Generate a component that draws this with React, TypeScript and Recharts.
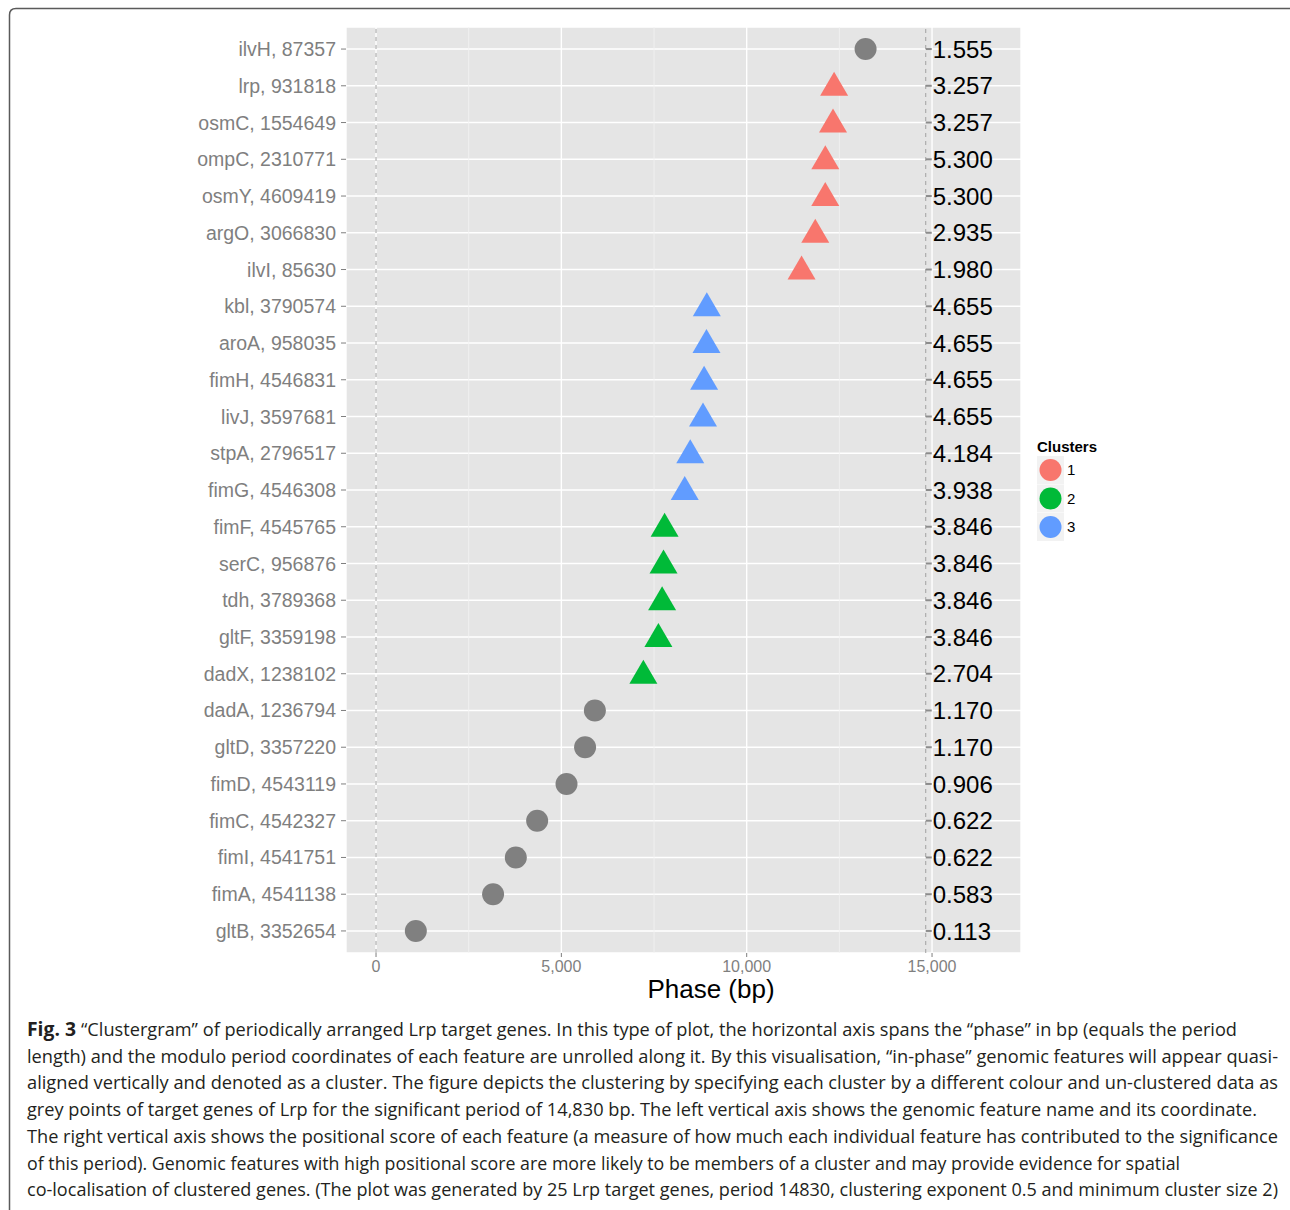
import { CartesianGrid, ReferenceLine, Scatter, ScatterChart, XAxis, YAxis } from 'recharts';

const genes = ['ilvH', 'lrp', 'osmC', 'ompC', 'osmY', 'argO', 'ilvI', 'kbl', 'aroA', 'fimH', 'livJ', 'stpA', 'fimG', 'fimF', 'serC', 'tdh', 'gltF', 'dadX', 'dadA', 'gltD', 'fimD', 'fimC', 'fimI', 'fimA', 'gltB'];
const coords = [87357, 931818, 1554649, 2310771, 4609419, 3066830, 85630, 3790574, 958035, 4546831, 3597681, 2796517, 4546308, 4545765, 956876, 3789368, 3359198, 1238102, 1236794, 3357220, 4543119, 4542327, 4541751, 4541138, 3352654];
const phases = [13207, 12358, 12329, 12121, 12119, 11850, 11480, 8924, 8915, 8851, 8821, 8477, 8328, 7785, 7756, 7718, 7618, 7212, 5904, 5640, 5139, 4347, 3771, 3158, 1074];
const clusters = [0, 1, 1, 1, 1, 1, 1, 3, 3, 3, 3, 3, 3, 2, 2, 2, 2, 2, 0, 0, 0, 0, 0, 0, 0];
const scores = ['1.555', '3.257', '3.257', '5.300', '5.300', '2.935', '1.980', '4.655', '4.655', '4.655', '4.655', '4.184', '3.938', '3.846', '3.846', '3.846', '3.846', '2.704', '1.170', '1.170', '0.906', '0.622', '0.622', '0.583', '0.113'];
const period = 14830;
const xTicks = [0, 5000, 10000, 15000];
const minorTicks = [2500, 7500, 12500];

const clusterColors: Record<number, string> = { 0: '#808080', 1: '#F8766D', 2: '#00BA38', 3: '#619CFF' };
const legendItems = [1, 2, 3];

const captionLines = [
    '“Clustergram” of periodically arranged Lrp target genes. In this type of plot, the horizontal axis spans the “phase” in bp (equals the period',
    'length) and the modulo period coordinates of each feature are unrolled along it. By this visualisation, “in-phase” genomic features will appear quasi-',
    'aligned vertically and denoted as a cluster. The figure depicts the clustering by specifying each cluster by a different colour and un-clustered data as',
    'grey points of target genes of Lrp for the significant period of 14,830 bp. The left vertical axis shows the genomic feature name and its coordinate.',
    'The right vertical axis shows the positional score of each feature (a measure of how much each individual feature has contributed to the significance',
    'of this period). Genomic features with high positional score are more likely to be members of a cluster and may provide evidence for spatial',
    'co-localisation of clustered genes. (The plot was generated by 25 Lrp target genes, period 14830, clustering exponent 0.5 and minimum cluster size 2)',
];
const captionEnds = [1237, 1278, 1278, 1257, 1278, 1180, 1278];

const points = genes.map((g, i) => ({ idx: i, phase: phases[i], cluster: clusters[i] }));
const scoreRows = genes.map((g, i) => ({ idx: i, phase: period, score: scores[i] }));

const FONT = '"Liberation Sans", Arial, Helvetica, sans-serif';

const Marker = (props: any) => {
    const { cx, cy, payload } = props;
    if (cx == null || cy == null) return null;
    const color = clusterColors[payload.cluster];
    if (payload.cluster === 0) return <circle cx={cx} cy={cy} r={11} fill={color} />;
    return <polygon points={`${cx - 14},${cy + 10} ${cx + 14},${cy + 10} ${cx},${cy - 14}`} fill={color} />;
};

const ScoreLabel = (props: any) => {
    const { cx, cy, payload } = props;
    if (cx == null || cy == null) return null;
    return (
        <g>
            <line x1={cx} x2={cx + 6} y1={cy} y2={cy} stroke="#8c8c8c" strokeWidth={2} />
            <text x={cx + 7} y={cy} dy="0.36em" fontSize={24} fill="#000" fontFamily={FONT}>
                {payload.score}
            </text>
        </g>
    );
};

const GeneTick = ({ x, y, payload }: any) => (
    <text x={x - 1} y={y} dy="0.36em" textAnchor="end" fontSize={19.5} fill="#7f7f7f" fontFamily={FONT}>
        {`${genes[payload.value]}, ${coords[payload.value]}`}
    </text>
);

export default function App() {
    return (
        <div style={{ position: 'absolute', left: 0, top: 0, width: 1290, height: 1210, background: '#fff', overflow: 'hidden' }}>
            <svg width={1290} height={1210} style={{ position: 'absolute', left: 0, top: 0 }}>
                <path d="M 9.5 1210 L 9.5 15 Q 9.5 8.5 16 8.5 L 1290 8.5" fill="none" stroke="#5a5a5a" strokeWidth={1.5} />
            </svg>
            <div style={{ position: 'absolute', left: 0, top: 0 }}>
                <ScatterChart width={1290} height={1010} margin={{ top: 27, right: 269, left: 0, bottom: 0 }}>
                    <CartesianGrid fill="#E5E5E5" stroke="#ffffff" strokeWidth={1.4} />
                    {minorTicks.map((t) => (
                        <ReferenceLine key={t} x={t} stroke="#f2f2f2" strokeWidth={0.8} />
                    ))}
                    <XAxis
                        type="number"
                        dataKey="phase"
                        domain={[-810, 17400]}
                        ticks={xTicks}
                        tickFormatter={(v: number) => v.toLocaleString('en-US')}
                        axisLine={false}
                        tickLine={{ stroke: '#7f7f7f' }}
                        tickSize={4}
                        tickMargin={4}
                        tick={{ fill: '#7f7f7f', fontSize: 16, fontFamily: FONT }}
                        height={57}
                        allowDataOverflow
                    />
                    <YAxis
                        type="number"
                        dataKey="idx"
                        domain={[-0.6, 24.6]}
                        reversed
                        ticks={genes.map((g, i) => i)}
                        interval={0}
                        width={346}
                        axisLine={false}
                        tickLine={{ stroke: '#7f7f7f' }}
                        tickSize={5}
                        tickMargin={4}
                        tick={<GeneTick />}
                        allowDataOverflow
                    />
                    <ReferenceLine x={0} stroke="#a0a0a0" strokeDasharray="4 4" />
                    <ReferenceLine x={period} stroke="#a0a0a0" strokeDasharray="4 4" />
                    <Scatter data={points} shape={<Marker />} isAnimationActive={false} />
                    <Scatter data={scoreRows} shape={<ScoreLabel />} isAnimationActive={false} />
                </ScatterChart>
            </div>
            <svg width={1290} height={1210} style={{ position: 'absolute', left: 0, top: 0, pointerEvents: 'none' }}>
                <text x={711} y={998} textAnchor="middle" fontSize={26} fill="#000" fontFamily={FONT}>
                    Phase (bp)
                </text>
                <text x={1037} y={452} fontSize={15} fontWeight="bold" fill="#000" fontFamily={FONT}>
                    Clusters
                </text>
                {legendItems.map((c, i) => (
                    <g key={c}>
                        <rect x={1037} y={456 + i * 28.5} width={27} height={28} fill="#F2F2F2" />
                        <circle cx={1050.5} cy={470 + i * 28.5} r={11} fill={clusterColors[c]} />
                        <text x={1067} y={470 + i * 28.5} dy="0.36em" fontSize={15} fill="#000" fontFamily={FONT}>
                            {c}
                        </text>
                    </g>
                ))}
                <text x={27} y={1036} fontSize={19} fontWeight="bold" fill="#231F20" fontFamily='"Open Sans", sans-serif' textLength={49} lengthAdjust="spacingAndGlyphs">
                    Fig. 3
                </text>
                {captionLines.map((line, i) => {
                    const x0 = i === 0 ? 81 : 27;
                    return (
                        <text
                            key={i}
                            x={x0}
                            y={1036 + i * 26.7}
                            fontSize={19}
                            fill="#231F20"
                            fontFamily='"Open Sans", sans-serif'
                            textLength={captionEnds[i] - x0}
                            lengthAdjust="spacingAndGlyphs"
                        >
                            {line}
                        </text>
                    );
                })}
            </svg>
        </div>
    );
}
